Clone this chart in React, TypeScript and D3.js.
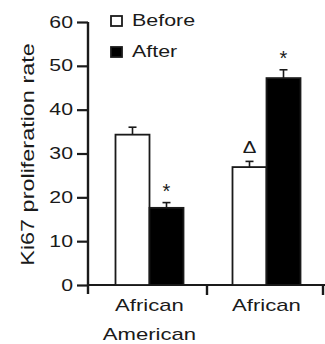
import { useRef, useEffect } from 'react';
import * as d3 from 'd3';

const groups = ['African American', 'African'];
const series = ['Before', 'After'];
const beforeValues = [34.3, 26.9];
const afterValues = [17.6, 47.2];
const beforeErrors = [1.7, 1.3];
const afterErrors = [1.2, 1.9];
const beforeMarks = ['', 'Δ'];
const afterMarks = ['*', '*'];
const yTicks = [0, 10, 20, 30, 40, 50, 60];

const font = 'Liberation Sans, Arial, sans-serif';
const ink = '#1a1a1a';

// the source figure uses a wide sans face, so texts get stretched along their run
function stretch(sel, k) {
    sel.each(function () {
        const len = this.getComputedTextLength();
        d3.select(this).attr('textLength', len * k).attr('lengthAdjust', 'spacingAndGlyphs');
    });
}

function App() {
    const ref = useRef(null);

    useEffect(() => {
        d3.select(ref.current).selectAll('*').remove();
        const svg = d3.select(ref.current);

        const y = d3.scaleLinear().domain([0, 60]).range([285, 22]);
        const x = d3.scaleBand().domain(groups).range([91, 325]).padding(0);
        const bw = 34;
        const xs = d3.scaleBand().domain(series).range([x.bandwidth() / 2 - bw, x.bandwidth() / 2 + bw]);

        // y axis
        const yAxis = svg.append('g').attr('transform', 'translate(88,0)')
            .call(d3.axisLeft(y).tickValues(yTicks).tickSize(11).tickPadding(4));
        yAxis.select('.domain').attr('stroke', ink).attr('stroke-width', 2.4).attr('d', `M0,${y(60)}V${y(0) + 9}`);
        yAxis.selectAll('.tick line').attr('stroke', ink).attr('stroke-width', 2.2);
        yAxis.selectAll('.tick text').attr('font-family', font).attr('font-size', 17).attr('fill', ink)
            .attr('dy', '0.3em').call(stretch, 1.25);

        // x axis
        svg.append('line').attr('x1', 87).attr('x2', 325).attr('y1', y(0)).attr('y2', y(0))
            .attr('stroke', ink).attr('stroke-width', 2);
        [x.range()[0] + x.bandwidth() - 1, 323].forEach(tx => {
            svg.append('line').attr('x1', tx).attr('x2', tx).attr('y1', y(0)).attr('y2', y(0) + 10)
                .attr('stroke', ink).attr('stroke-width', 2.4);
        });

        const rows = series.flatMap((s, si) => groups.map((g, gi) => ({
            g, s,
            v: si === 0 ? beforeValues[gi] : afterValues[gi],
            e: si === 0 ? beforeErrors[gi] : afterErrors[gi],
            m: si === 0 ? beforeMarks[gi] : afterMarks[gi],
        })));

        const bx = d => x(d.g) + xs(d.s);
        svg.selectAll('.bar').data(rows).enter().append('rect')
            .attr('class', 'bar')
            .attr('x', d => bx(d))
            .attr('y', d => y(d.v))
            .attr('width', xs.bandwidth())
            .attr('height', d => y(0) - y(d.v))
            .attr('fill', d => d.s === 'Before' ? '#fff' : '#000')
            .attr('stroke', ink).attr('stroke-width', 1.8);

        // error bars + significance marks
        rows.forEach(d => {
            const cx = bx(d) + xs.bandwidth() / 2;
            const top = y(d.v + d.e);
            svg.append('line').attr('x1', cx).attr('x2', cx).attr('y1', y(d.v)).attr('y2', top)
                .attr('stroke', ink).attr('stroke-width', 1.6);
            svg.append('line').attr('x1', cx - 4).attr('x2', cx + 4).attr('y1', top).attr('y2', top)
                .attr('stroke', ink).attr('stroke-width', 1.6);
            if (d.m === '*') {
                svg.append('text').attr('x', cx).attr('y', top - 5)
                    .attr('text-anchor', 'middle').attr('font-family', font).attr('font-size', 20)
                    .attr('fill', ink).text(d.m);
            } else if (d.m) {
                svg.append('text').attr('x', cx).attr('y', top - 8)
                    .attr('text-anchor', 'middle').attr('font-family', font).attr('font-size', 17)
                    .attr('fill', ink).text(d.m).call(stretch, 1.2);
            }
        });

        // category labels
        groups.forEach(g => {
            const words = g === 'African American' ? ['African', 'American'] : ['African'];
            words.forEach((w, i) => {
                svg.append('text').attr('x', x(g) + x.bandwidth() / 2).attr('y', 311 + i * 29)
                    .attr('text-anchor', 'middle').attr('font-family', font).attr('font-size', 17)
                    .attr('fill', ink).text(w).call(stretch, 1.3);
            });
        });

        // y label
        svg.append('text').attr('transform', `translate(34,${(y(0) + y(60)) / 2 + 1}) rotate(-90)`)
            .attr('text-anchor', 'middle').attr('font-family', font).attr('font-size', 18).attr('fill', ink)
            .text('Ki67 proliferation rate').call(stretch, 1.3);

        // legend
        series.forEach((s, i) => {
            const ly = 26 + i * 31;
            svg.append('rect').attr('x', 111).attr('y', ly - 10).attr('width', 11).attr('height', 10)
                .attr('fill', s === 'Before' ? '#fff' : '#000').attr('stroke', ink).attr('stroke-width', 1.8);
            svg.append('text').attr('x', 132).attr('y', ly)
                .attr('font-family', font).attr('font-size', 17).attr('fill', ink).text(s).call(stretch, 1.26);
        });
    }, []);

    return <svg ref={ref} width={325} height={344} style={{ position: 'absolute', left: 0, top: 0, background: '#fff' }} />;
}

export default App;
